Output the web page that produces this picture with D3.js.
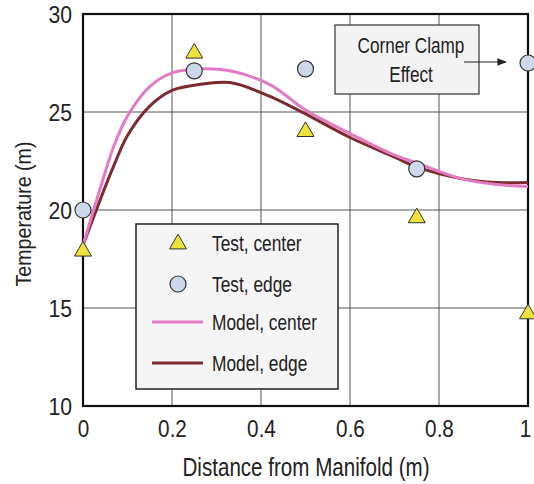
<!DOCTYPE html>
<html><head><meta charset="utf-8">
<script src="https://cdn.jsdelivr.net/npm/d3@7"></script>
<style>
html,body{margin:0;padding:0;background:#fff;}
text{font-family:"Liberation Sans",Arial,sans-serif;fill:#222;}
</style></head>
<body><svg id="c" width="534" height="484"></svg>
<script>
const xTicks = [0, 0.2, 0.4, 0.6, 0.8, 1];
const xTickLabels = ["0", "0.2", "0.4", "0.6", "0.8", "1"];
const yTicks = [10, 15, 20, 25, 30];
const testX = [0, 0.25, 0.5, 0.75, 1.0];
const testCenter = [17.9, 28.0, 24.0, 19.6, 14.7];
const testEdge = [20.0, 27.1, 27.2, 22.1, 27.5];
const modelX = [0, 0.04, 0.07, 0.1, 0.15, 0.2, 0.26, 0.33, 0.42, 0.5, 0.6, 0.7, 0.75, 0.85, 0.93, 1.0];
const modelCenter = [18.2, 21.2, 23.3, 24.8, 26.3, 27.0, 27.2, 27.1, 26.4, 25.1, 23.9, 22.8, 22.4, 21.6, 21.3, 21.2];
const modelEdge = [18.2, 20.6, 22.3, 23.8, 25.3, 26.1, 26.4, 26.5, 25.8, 24.9, 23.7, 22.7, 22.2, 21.6, 21.4, 21.4];
const legendLabels = ["Test, center", "Test, edge", "Model, center", "Model, edge"];
const annotation = ["Corner Clamp", "Effect"];

const svg = d3.select("#c");
const x = d3.scaleLinear().domain([0, 1]).range([83, 528]);
const y = d3.scaleLinear().domain([10, 30]).range([406, 14]);

function condense(sel, f) {
  sel.each(function () {
    const w = this.getComputedTextLength();
    d3.select(this).attr("textLength", w * f).attr("lengthAdjust", "spacingAndGlyphs");
  });
}

// grid
const g = svg.append("g");
g.selectAll(".gx").data(xTicks.slice(1, -1)).enter().append("line")
  .attr("x1", d => x(d)).attr("x2", d => x(d)).attr("y1", y(30)).attr("y2", y(10))
  .attr("stroke", "#444").attr("stroke-width", 0.9);
g.selectAll(".gy").data(yTicks.slice(1, -1)).enter().append("line")
  .attr("x1", x(0)).attr("x2", x(1)).attr("y1", d => y(d)).attr("y2", d => y(d))
  .attr("stroke", "#444").attr("stroke-width", 0.9);

// frame
svg.append("rect").attr("x", x(0)).attr("y", y(30)).attr("width", x(1) - x(0)).attr("height", y(10) - y(30))
  .attr("fill", "none").attr("stroke", "#111").attr("stroke-width", 2.2);

// axes
const xAxis = d3.axisBottom(x).tickValues(xTicks).tickFormat((d, i) => xTickLabels[i]).tickSize(0).tickPadding(14);
const xa = svg.append("g").attr("transform", `translate(0,${y(10)})`).call(xAxis);
xa.select(".domain").remove();
xa.attr("font-family", null).attr("font-size", null);
xa.selectAll("text").attr("font-size", 23.5).attr("fill", "#222");
xa.selectAll("text").filter(d => d === 1).attr("dx", -3);
condense(xa.selectAll("text"), 0.88);

const yAxis = d3.axisLeft(y).tickValues(yTicks).tickSize(0).tickPadding(11);
const ya = svg.append("g").attr("transform", `translate(${x(0)},0)`).call(yAxis);
ya.select(".domain").remove();
ya.attr("font-family", null).attr("font-size", null);
ya.selectAll("text").attr("font-size", 23.5).attr("fill", "#222").attr("dy", "0.36em");
condense(ya.selectAll("text"), 0.9);

const xl = svg.append("text").attr("x", 306).attr("y", 476).attr("text-anchor", "middle").attr("font-size", 25)
  .text("Distance from Manifold (m)");
xl.attr("textLength", 247).attr("lengthAdjust", "spacingAndGlyphs");
const yl = svg.append("text").attr("transform", "translate(31,214) rotate(-90)").attr("text-anchor", "middle").attr("font-size", 22)
  .text("Temperature (m)");
yl.attr("textLength", 145).attr("lengthAdjust", "spacingAndGlyphs");

// model lines
const line = d3.line().curve(d3.curveCatmullRom.alpha(0.5));
const cPts = modelX.map((d, i) => [x(d), y(modelCenter[i])]);
const ePts = modelX.map((d, i) => [x(d), y(modelEdge[i])]);
svg.append("path").attr("d", line(ePts)).attr("fill", "none").attr("stroke", "#7b2b2e").attr("stroke-width", 3);
svg.append("path").attr("d", line(cPts)).attr("fill", "none").attr("stroke", "#e37ac4").attr("stroke-width", 3);

// markers
const tri = d3.symbol().type(d3.symbolTriangle).size(125);
svg.selectAll(".tc").data(testX).enter().append("path")
  .attr("d", tri).attr("transform", (d, i) => `translate(${x(d)},${y(testCenter[i])})`)
  .attr("fill", "#efe23a").attr("stroke", "#333").attr("stroke-width", 1);
svg.selectAll(".te").data(testX).enter().append("circle")
  .attr("cx", d => x(d)).attr("cy", (d, i) => y(testEdge[i])).attr("r", 8)
  .attr("fill", "#cdd8ea").attr("stroke", "#333").attr("stroke-width", 1.2);

// legend
const lg = svg.append("g");
lg.append("rect").attr("x", 136).attr("y", 224).attr("width", 202).attr("height", 165)
  .attr("fill", "#f6f5f6").attr("stroke", "#222").attr("stroke-width", 1.5);
const rowsY = [243, 284, 322, 363];
lg.append("path").attr("d", tri).attr("transform", `translate(178,${rowsY[0] + 1})`)
  .attr("fill", "#efe23a").attr("stroke", "#333").attr("stroke-width", 1);
lg.append("circle").attr("cx", 178).attr("cy", rowsY[1]).attr("r", 8)
  .attr("fill", "#cdd8ea").attr("stroke", "#333").attr("stroke-width", 1.2);
lg.append("line").attr("x1", 152).attr("x2", 203).attr("y1", rowsY[2]).attr("y2", rowsY[2])
  .attr("stroke", "#e37ac4").attr("stroke-width", 3);
lg.append("line").attr("x1", 152).attr("x2", 203).attr("y1", rowsY[3]).attr("y2", rowsY[3])
  .attr("stroke", "#7b2b2e").attr("stroke-width", 3);
const lt = lg.selectAll(".lt").data(legendLabels).enter().append("text")
  .attr("x", 212).attr("y", (d, i) => rowsY[i] + 8).attr("font-size", 22.5).text(d => d);
condense(lt, 0.77);

// annotation
const an = svg.append("g");
an.append("rect").attr("x", 335).attr("y", 25).attr("width", 144).attr("height", 69)
  .attr("fill", "#f3f3f3").attr("stroke", "#333").attr("stroke-width", 1.2);
const at = an.selectAll(".at").data(annotation).enter().append("text")
  .attr("x", 411).attr("y", (d, i) => 53 + i * 29).attr("text-anchor", "middle")
  .attr("font-size", 22).text(d => d);
condense(at, 0.78);
svg.append("defs").append("marker").attr("id", "ah").attr("viewBox", "0 0 10 10").attr("refX", 9).attr("refY", 5)
  .attr("markerWidth", 8).attr("markerHeight", 8).attr("orient", "auto")
  .append("path").attr("d", "M0,1 L10,5 L0,9 z").attr("fill", "#222");
an.append("line").attr("x1", 464).attr("x2", 506).attr("y1", 62).attr("y2", 62)
  .attr("stroke", "#222").attr("stroke-width", 1.2).attr("marker-end", "url(#ah)");
</script></body></html>
